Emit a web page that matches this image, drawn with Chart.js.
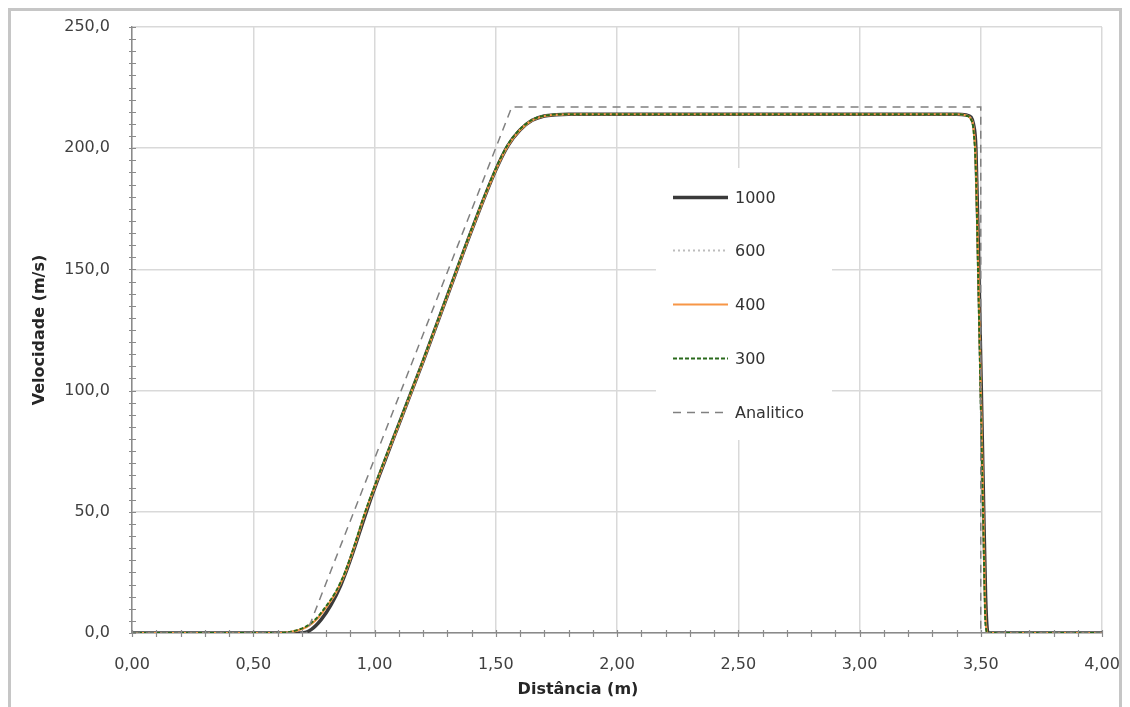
<!DOCTYPE html>
<html>
<head>
<meta charset="utf-8">
<title>Velocidade x Distância</title>
<script src="https://cdn.jsdelivr.net/npm/chart.js@4/dist/chart.umd.min.js"></script>
<style>
  html, body { margin: 0; padding: 0; background: #ffffff; }
  #wrap { width: 1130px; height: 707px; position: relative; }
</style>
</head>
<body>
<div id="wrap"><canvas id="chart" width="1130" height="707"></canvas></div>
<script>
// Distance samples (m) for the 600 / 400 / 300 runs
const xSim = [0.00, 0.60, 0.64, 0.68, 0.72, 0.76, 0.80, 0.84, 0.88, 0.92, 0.96, 1.00, 1.10, 1.20, 1.30, 1.40, 1.50, 1.55, 1.60, 1.65, 1.70, 1.75, 1.80, 2.50, 3.40, 3.44, 3.46, 3.47, 3.48, 3.49, 3.50, 3.51, 3.52, 3.53, 4.00];
const v600 = [0, 0, 0.2, 1.0, 2.5, 5.5, 10.5, 16.5, 25.0, 36.5, 49.0, 60.0, 86.0, 112.0, 139.0, 166.0, 191.0, 201.0, 207.5, 211.5, 213.3, 213.8, 214.0, 214.0, 214.0, 213.5, 212.0, 208.0, 192.0, 146.0, 98.0, 50.0, 4.0, 0, 0];
const v400 = [0, 0, 0.2, 1.0, 2.5, 5.5, 10.5, 16.5, 25.0, 36.5, 49.0, 60.0, 86.0, 112.0, 139.0, 166.0, 191.0, 201.0, 207.5, 211.5, 213.3, 213.8, 214.0, 214.0, 214.0, 213.5, 212.0, 208.5, 194.0, 150.0, 102.0, 54.0, 6.0, 0, 0];
const v300 = [0, 0, 0.3, 1.2, 2.8, 6.0, 11.0, 17.0, 25.5, 37.0, 49.5, 60.5, 86.5, 112.5, 139.5, 166.5, 191.5, 201.5, 207.8, 211.7, 213.4, 213.9, 214.0, 214.0, 214.0, 213.4, 211.8, 207.5, 190.0, 143.0, 95.0, 47.0, 3.0, 0, 0];

// Distance samples (m) for the 1000 run
const x1000 = [0.00, 0.70, 0.74, 0.78, 0.82, 0.86, 0.90, 0.94, 0.98, 1.02, 1.10, 1.20, 1.30, 1.40, 1.50, 1.55, 1.60, 1.65, 1.70, 1.75, 1.80, 2.50, 3.40, 3.44, 3.46, 3.47, 3.48, 3.49, 3.50, 3.51, 3.52, 3.53, 4.00];
const v1000 = [0, 0, 1.5, 5.5, 11.5, 19.5, 30.0, 42.0, 54.0, 65.0, 86.0, 112.0, 139.0, 166.0, 191.0, 201.0, 207.5, 211.5, 213.3, 213.8, 214.0, 214.0, 214.0, 213.7, 212.8, 210.0, 200.0, 160.0, 112.0, 62.0, 15.0, 0, 0];

// Analytical solution
const xAna = [0.00, 0.72, 1.566, 3.50, 3.50, 4.00];
const vAna = [0, 0, 217.0, 217.0, 0, 0];

// Axis tick labels
const xTickLabels = ['0,00', '0,50', '1,00', '1,50', '2,00', '2,50', '3,00', '3,50', '4,00'];
const yTickLabels = ['0,0', '50,0', '100,0', '150,0', '200,0', '250,0'];

const seriesNames = ['1000', '600', '400', '300', 'Analitico'];
const xTitle = 'Distância (m)';
const yTitle = 'Velocidade (m/s)';

function pts(xs, ys) { return xs.map((x, i) => ({ x: x, y: ys[i] })); }

const FONT = "'DejaVu Sans', sans-serif";

// Gray frame round the whole chart
const framePlugin = {
  id: 'frame',
  beforeDraw(chart) {
    const ctx = chart.ctx;
    ctx.save();
    ctx.fillStyle = '#ffffff';
    ctx.fillRect(0, 0, chart.width, chart.height);
    ctx.strokeStyle = '#c6c6c6';
    ctx.lineWidth = 3;
    ctx.strokeRect(9.5, 9.5, 1111, 740);
    ctx.restore();
  }
};

// Minor tick marks crossing both axes, plus the horizontal axis title
const minorTicksPlugin = {
  id: 'minorTicks',
  afterDraw(chart) {
    const { ctx, scales: { x, y }, chartArea } = chart;
    ctx.save();
    ctx.strokeStyle = '#8a8a8a';
    ctx.lineWidth = 1.2;
    ctx.beginPath();
    for (let i = 0; i <= 40; i++) {
      const px = Math.round(x.getPixelForValue(i / 10)) + 0.5;
      ctx.moveTo(px, chartArea.bottom - 3);
      ctx.lineTo(px, chartArea.bottom + 4);
    }
    for (let i = 0; i <= 50; i++) {
      const py = Math.round(y.getPixelForValue(i * 5)) + 0.5;
      ctx.moveTo(chartArea.left - 3, py);
      ctx.lineTo(chartArea.left + 4, py);
    }
    ctx.stroke();
    ctx.fillStyle = '#262626';
    ctx.font = 'bold 16px ' + FONT;
    ctx.textAlign = 'center';
    ctx.textBaseline = 'middle';
    ctx.fillText(xTitle, 578, 690);
    ctx.restore();
  }
};

// Legend drawn inside the plot area on a white panel
const innerLegendPlugin = {
  id: 'innerLegend',
  afterDatasetsDraw(chart) {
    const ctx = chart.ctx;
    const box = { x: 656, y: 168, w: 176, h: 272 };
    ctx.save();
    ctx.fillStyle = '#ffffff';
    ctx.fillRect(box.x, box.y, box.w, box.h);
    const rowY0 = 196.5, rowStep = 53.8;
    chart.data.datasets.forEach((ds, i) => {
      const yy = Math.round(rowY0 + i * rowStep) + 0.5;
      ctx.save();
      ctx.strokeStyle = ds.borderColor;
      ctx.lineWidth = ds.borderWidth;
      ctx.setLineDash(ds.borderDash || []);
      ctx.beginPath();
      ctx.moveTo(673, yy);
      ctx.lineTo(728, yy);
      ctx.stroke();
      ctx.restore();
      ctx.fillStyle = '#333333';
      ctx.font = '16px ' + FONT;
      ctx.textAlign = 'left';
      ctx.textBaseline = 'middle';
      ctx.fillText(ds.label, 735, yy + 1);
    });
    ctx.restore();
  }
};

const datasets = [
  { label: seriesNames[0], data: pts(x1000, v1000), borderColor: '#3a3a3a', borderWidth: 3.5, borderDash: [], order: 5, cubicInterpolationMode: 'monotone' },
  { label: seriesNames[1], data: pts(xSim, v600), borderColor: '#bdbdbd', borderWidth: 2, borderDash: [2, 3], order: 4, cubicInterpolationMode: 'monotone' },
  { label: seriesNames[2], data: pts(xSim, v400), borderColor: '#f79646', borderWidth: 2.2, borderDash: [], order: 3, cubicInterpolationMode: 'monotone' },
  { label: seriesNames[3], data: pts(xSim, v300), borderColor: '#2a6a1c', borderWidth: 2, borderDash: [4, 2], order: 2, cubicInterpolationMode: 'monotone' },
  { label: seriesNames[4], data: pts(xAna, vAna), borderColor: '#808080', borderWidth: 1.5, borderDash: [8, 6], order: 1, tension: 0 }
];

new Chart(document.getElementById('chart'), {
  type: 'scatter',
  data: { datasets: datasets.map(d => Object.assign({ showLine: true, pointRadius: 0, pointHoverRadius: 0, fill: false }, d)) },
  options: {
    responsive: false,
    animation: false,
    devicePixelRatio: 1,
    layout: { padding: { top: 27, right: 28, left: 0, bottom: 0 } },
    plugins: {
      legend: { display: false },
      tooltip: { enabled: false }
    },
    scales: {
      x: {
        type: 'linear',
        min: 0, max: 4,
        ticks: {
          stepSize: 0.5,
          padding: 22,
          color: '#404040',
          font: { family: FONT, size: 16 },
          maxRotation: 0,
          callback: (v, i) => xTickLabels[i]
        },
        grid: { color: '#d9d9d9', lineWidth: 1.5, drawTicks: false },
        border: { display: true, color: '#8a8a8a', width: 1.5 },
        title: { display: false, text: xTitle },
        afterFit(scale) {
          scale.height = 74;
          scale.paddingLeft = 0;
          scale.paddingRight = 0;
        }
      },
      y: {
        type: 'linear',
        min: 0, max: 250,
        ticks: {
          stepSize: 50,
          padding: 22,
          color: '#404040',
          font: { family: FONT, size: 16 },
          callback: (v, i) => yTickLabels[i]
        },
        grid: { color: '#d9d9d9', lineWidth: 1.5, drawTicks: false },
        border: { display: true, color: '#8a8a8a', width: 1.5 },
        title: {
          display: true,
          text: yTitle,
          color: '#262626',
          font: { family: FONT, size: 16, weight: 'bold' },
          padding: { top: 30, bottom: 0 }
        },
        afterFit(scale) {
          scale.width = 132;
          scale.paddingTop = 0;
          scale.paddingBottom = 0;
        }
      }
    }
  },
  plugins: [framePlugin, minorTicksPlugin, innerLegendPlugin]
});
</script>
</body>
</html>
